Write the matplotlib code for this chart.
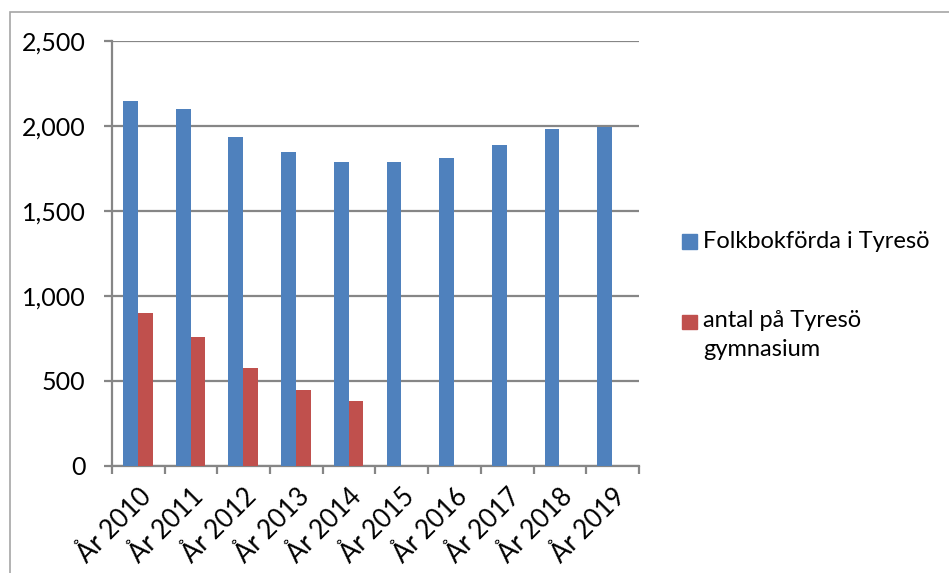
import matplotlib.pyplot as plt
from matplotlib.patches import Rectangle
import numpy as np

plt.rcParams['font.family'] = ['Lato', 'DejaVu Sans']

# data
years = ['År 2010', 'År 2011', 'År 2012', 'År 2013', 'År 2014',
         'År 2015', 'År 2016', 'År 2017', 'År 2018', 'År 2019']
folkbokforda = [2145, 2101, 1932, 1849, 1790, 1785, 1812, 1885, 1981, 1991]
gymnasium = [900, 755, 576, 443, 380]
series_names = ['Folkbokförda i Tyresö', 'antal på Tyresö\ngymnasium']

blue = '#4F81BD'
red = '#C0504D'
grid = '#868686'

fig = plt.figure(figsize=(9.49, 5.73), dpi=100)
ax = fig.add_axes([0.118, 0.1876, 0.5553, 0.7408])

# outer chart frame (only top/left visible in the picture)
fig.patches.append(Rectangle((10 / 949, -0.1), 1.2, 1 - 12 / 573 + 0.1,
                             transform=fig.transFigure, fill=False,
                             edgecolor='#a6a6a6', lw=1.2))

x = np.arange(len(years))
w = 0.28
ax.bar(x - w / 2 - 0.01, folkbokforda, width=w, color=blue, zorder=3)
ax.bar(x[:len(gymnasium)] + w / 2 - 0.01, gymnasium, width=w, color=red, zorder=3)

ax.set_xlim(-0.5, len(years) - 0.5)
ax.set_ylim(0, 2500)
ax.set_yticks(range(0, 2501, 500))
ax.set_yticklabels([f'{v:,}' for v in range(0, 2501, 500)], fontsize=18)
ax.yaxis.grid(True, color=grid, lw=1.6, zorder=0)

ax.set_xticks(np.arange(len(years) + 1) - 0.5)
ax.set_xticklabels([])
ax.set_xticks(x, minor=True)
ax.set_xticklabels(years, minor=True, rotation=45, ha='right', va='top',
                   rotation_mode='anchor', fontsize=18.5)
ax.tick_params(axis='x', which='minor', length=0, pad=13)
ax.tick_params(axis='x', which='major', length=6, width=1.6, color=grid)
ax.tick_params(axis='y', length=6, width=1.6, color=grid, pad=13)

for s in ['top', 'right']:
    ax.spines[s].set_visible(False)
for s in ['left', 'bottom']:
    ax.spines[s].set_color(grid)
    ax.spines[s].set_linewidth(1.6)

# legend drawn by hand to match the layout
fig.patches.append(Rectangle((682 / 949, 1 - 249 / 573), 15 / 949, 15 / 573,
                             transform=fig.transFigure, color=blue))
fig.text(703 / 949, 1 - 242 / 573, series_names[0], fontsize=17,
         va='center', ha='left')
fig.patches.append(Rectangle((682 / 949, 1 - 329 / 573), 15 / 949, 14 / 573,
                             transform=fig.transFigure, color=red))
fig.text(703 / 949, 1 - 310 / 573, series_names[1], fontsize=17,
         va='top', ha='left', linespacing=1.45)

fig.savefig('out.png', dpi=100)
